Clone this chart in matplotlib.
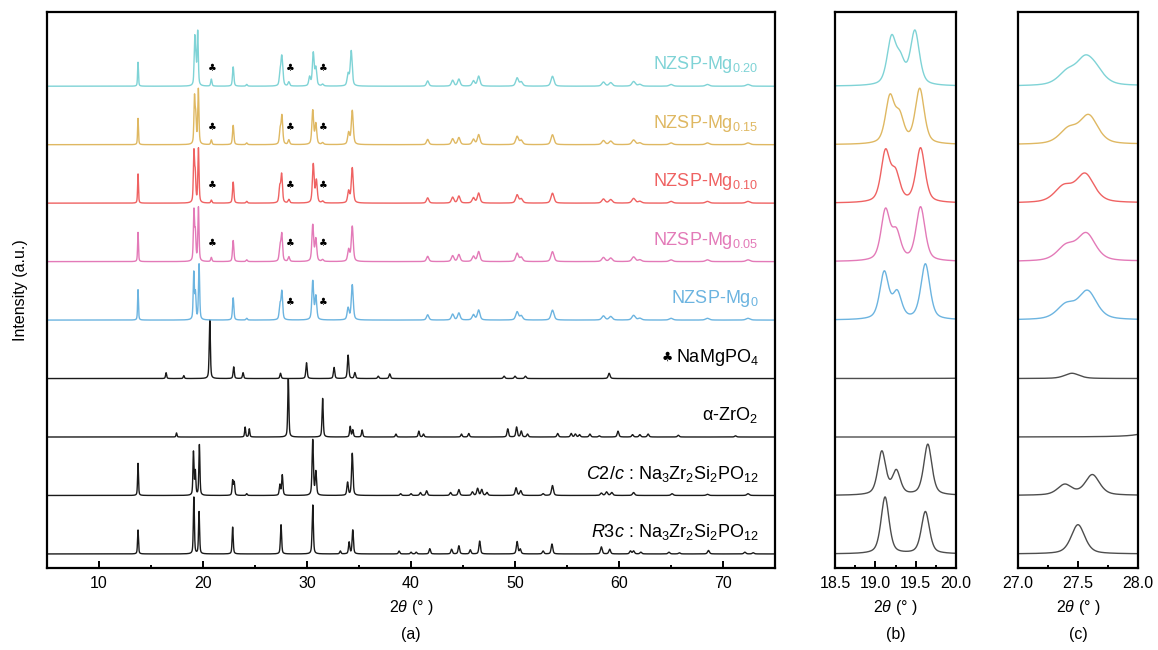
import numpy as np
import matplotlib.pyplot as plt
from matplotlib.ticker import MultipleLocator

plt.rcParams['font.family'] = ['Liberation Sans', 'DejaVu Sans']
plt.rcParams['mathtext.fontset'] = 'custom'
plt.rcParams['mathtext.rm'] = 'Liberation Sans'
plt.rcParams['mathtext.it'] = 'Liberation Sans:italic'
plt.rcParams['mathtext.bf'] = 'Liberation Sans:bold'

# peak lists: 2theta (deg) and height (max ~ 1)
r3c_pos = [13.75, 19.12, 19.62, 22.85, 27.5, 30.55, 33.2, 34.05, 34.4, 38.85, 40.0, 40.5,
           41.8, 43.9, 44.6, 45.7, 46.6, 50.2, 50.5, 52.7, 53.55, 58.3, 59.1, 61.1, 61.4,
           62.1, 64.8, 65.8, 68.6, 72.1, 72.9]
r3c_int = [0.41, 0.97, 0.72, 0.46, 0.5, 0.84, 0.05, 0.2, 0.41, 0.05, 0.03, 0.03,
           0.09, 0.08, 0.14, 0.07, 0.22, 0.21, 0.08, 0.05, 0.17, 0.12, 0.08, 0.05, 0.05,
           0.03, 0.03, 0.02, 0.06, 0.03, 0.02]

c2c_pos = [13.75, 19.08, 19.26, 19.65, 22.85, 23.0, 24.2, 27.39, 27.62, 30.55, 30.85, 33.9,
           34.35, 39.0, 40.0, 40.9, 41.5, 43.8, 44.6, 45.9, 46.4, 46.8, 47.3, 50.1, 50.55,
           52.7, 53.6, 58.3, 58.8, 59.3, 61.4, 65.1, 68.5, 72.4]
c2c_int = [0.55, 0.74, 0.4, 0.87, 0.25, 0.22, 0.03, 0.18, 0.35, 0.95, 0.4, 0.22,
           0.72, 0.03, 0.03, 0.05, 0.08, 0.05, 0.1, 0.06, 0.12, 0.1, 0.05, 0.13, 0.08,
           0.03, 0.17, 0.04, 0.06, 0.05, 0.05, 0.03, 0.02, 0.03]

zro2_pos = [17.45, 24.05, 24.45, 28.2, 31.5, 34.15, 34.4, 35.3, 38.55, 40.75, 41.2, 44.85,
            45.55, 49.3, 50.15, 50.6, 51.2, 54.1, 55.4, 55.8, 56.2, 57.2, 58.1, 59.9, 61.3,
            62.0, 62.8, 65.7, 71.2]
zro2_int = [0.07, 0.17, 0.14, 1.0, 0.66, 0.18, 0.12, 0.12, 0.05, 0.1, 0.05, 0.05,
            0.06, 0.14, 0.17, 0.1, 0.05, 0.06, 0.06, 0.05, 0.04, 0.05, 0.02, 0.1, 0.04,
            0.04, 0.05, 0.03, 0.02]

nmp_pos = [16.45, 18.15, 20.65, 22.95, 23.85, 27.45, 29.95, 32.6, 33.95, 34.6, 36.85, 37.95,
           48.95, 50.0, 51.0, 59.05]
nmp_int = [0.1, 0.05, 1.0, 0.2, 0.1, 0.09, 0.27, 0.19, 0.4, 0.1, 0.04, 0.08,
           0.04, 0.04, 0.04, 0.09]

# NZSP-Mgx samples, low-angle part
mg0_pos = [13.75, 19.11, 19.27, 19.62, 22.9, 24.2, 27.4, 27.58, 30.55, 30.85, 33.95, 34.35]
mg0_int = [0.52, 0.8, 0.44, 0.95, 0.38, 0.03, 0.24, 0.48, 0.66, 0.4, 0.2, 0.6]
mg05_pos = [13.75, 19.125, 19.26, 19.56, 20.8, 22.9, 24.2, 27.4, 27.57, 28.25, 30.55, 30.85,
            31.5, 34.0, 34.35]
mg05_int = [0.5, 0.85, 0.46, 0.92, 0.07, 0.36, 0.03, 0.24, 0.46, 0.08, 0.62, 0.38,
            0.03, 0.2, 0.6]
mg10_pos = [13.75, 19.125, 19.25, 19.56, 20.8, 22.9, 24.2, 27.38, 27.56, 28.25, 30.6, 30.9,
            31.5, 34.0, 34.35]
mg10_int = [0.5, 0.85, 0.46, 0.93, 0.05, 0.36, 0.03, 0.26, 0.48, 0.06, 0.66, 0.38,
            0.03, 0.2, 0.6]
mg15_pos = [13.75, 19.18, 19.3, 19.55, 20.8, 22.9, 24.2, 27.42, 27.59, 28.25, 30.55, 30.85,
            31.5, 34.0, 34.35]
mg15_int = [0.45, 0.78, 0.44, 0.94, 0.08, 0.33, 0.03, 0.24, 0.48, 0.08, 0.58, 0.35,
            0.03, 0.2, 0.58]
mg20_pos = [13.75, 19.2, 19.31, 19.49, 20.8, 22.9, 24.2, 27.41, 27.56, 27.65, 28.25, 30.25,
            30.6, 30.85, 31.5, 33.95, 34.25]
mg20_int = [0.41, 0.78, 0.38, 0.92, 0.12, 0.33, 0.03, 0.21, 0.4, 0.18, 0.07, 0.15,
            0.56, 0.3, 0.03, 0.2, 0.6]
# high-angle part, same for all doped samples
mg_hi_pos = [41.6, 44.0, 44.6, 46.0, 46.5, 50.2, 50.6, 53.6, 58.5, 59.2, 61.4, 62.0,
             65.0, 68.5, 72.4]
mg_hi_int = [0.09, 0.1, 0.12, 0.09, 0.17, 0.14, 0.07, 0.17, 0.07, 0.06, 0.08, 0.03,
             0.03, 0.03, 0.03]

club_pos = [20.9, 28.4, 31.6]

labels = [r'$R$3$c$ : Na$_3$Zr$_2$Si$_2$PO$_{12}$',
          r'$C$2/$c$ : Na$_3$Zr$_2$Si$_2$PO$_{12}$',
          r'α-ZrO$_2$',
          r'NaMgPO$_4$',
          r'NZSP-Mg$_0$', r'NZSP-Mg$_{0.05}$', r'NZSP-Mg$_{0.10}$',
          r'NZSP-Mg$_{0.15}$', r'NZSP-Mg$_{0.20}$']
colors = ['#1a1a1a', '#1a1a1a', '#1a1a1a', '#1a1a1a',
          '#6cb4e0', '#e37ab8', '#ef6262', '#dfb862', '#7fd3d6']
zoom_colors = ['#4d4d4d'] * 4 + colors[4:]

phases = [(r3c_pos, r3c_int, 0.12, 0.002),
          (c2c_pos, c2c_int, 0.12, 0.003),
          (zro2_pos, zro2_int, 0.11, 0.002),
          (nmp_pos, nmp_int, 0.13, 0.002),
          (mg0_pos + mg_hi_pos, mg0_int + mg_hi_int, 0.135, 0.006),
          (mg05_pos + mg_hi_pos, mg05_int + mg_hi_int, 0.135, 0.006),
          (mg10_pos + mg_hi_pos, mg10_int + mg_hi_int, 0.135, 0.006),
          (mg15_pos + mg_hi_pos, mg15_int + mg_hi_int, 0.135, 0.006),
          (mg20_pos + mg_hi_pos, mg20_int + mg_hi_int, 0.135, 0.006)]


def pattern(x, pos, hgt, fwhm, slope):
    y = np.zeros_like(x)
    for p, h in zip(pos, hgt):
        w = max(fwhm + slope * (p - 20), 0.08)
        d = (x - p) / w
        y += h * (0.5 / (1 + 4 * d ** 2) + 0.5 * np.exp(-4 * np.log(2) * d ** 2))
    return y


fig = plt.figure(figsize=(11.58, 6.5), dpi=100)
ax_a = fig.add_axes([0.0406, 0.1262, 0.6287, 0.8554])
ax_b = fig.add_axes([0.7211, 0.1262, 0.1045, 0.8554])
ax_c = fig.add_axes([0.8791, 0.1262, 0.1036, 0.8554])

ranges = [(ax_a, 5, 75), (ax_b, 18.5, 20.0), (ax_c, 27.0, 28.0)]
for ax, lo, hi in ranges:
    x = np.linspace(lo, hi, 6000)
    for i, (pos, hgt, fw, sl) in enumerate(phases):
        c = colors[i] if ax is ax_a else zoom_colors[i]
        ax.plot(x, pattern(x, pos, hgt, fw, sl) + i, color=c, lw=1.0)
    ax.set_xlim(lo, hi)
    ax.set_ylim(-0.24, 9.27)
    ax.set_yticks([])
    for s in ax.spines.values():
        s.set_linewidth(1.6)
    ax.tick_params(axis='x', which='both', direction='in', width=1.4, labelsize=11.5, pad=6)
    ax.tick_params(axis='x', which='major', length=5)
    ax.tick_params(axis='x', which='minor', length=2.5)
    ax.set_xlabel('2$θ$ (° )', fontsize=11.5, labelpad=5)

ax_a.xaxis.set_major_locator(MultipleLocator(10))
ax_a.xaxis.set_minor_locator(MultipleLocator(5))
ax_b.set_xticks([18.5, 19.0, 19.5, 20.0])
ax_b.set_xticklabels(['18.5', '19.0', '19.5', '20.0'])
ax_b.xaxis.set_minor_locator(MultipleLocator(0.25))
ax_c.set_xticks([27.0, 27.5, 28.0])
ax_c.set_xticklabels(['27.0', '27.5', '28.0'])
ax_c.xaxis.set_minor_locator(MultipleLocator(0.25))

ax_a.set_ylabel('Intensity (a.u.)', fontsize=11.5, labelpad=14)

for ax, tag in [(ax_a, '(a)'), (ax_b, '(b)'), (ax_c, '(c)')]:
    ax.text(0.5, -0.12, tag, transform=ax.transAxes, ha='center', va='center', fontsize=11.5)

for i, lab in enumerate(labels):
    ax_a.text(73.4, i + 0.29, lab, ha='right', va='baseline', fontsize=13,
              color=colors[i] if i >= 4 else 'black')
ax_a.text(64.6, 3 + 0.36, '♣', ha='center', va='center', fontsize=9, family='DejaVu Sans')

for i in range(4, 9):
    for p in club_pos:
        if i == 4 and p < 25:
            continue
        ax_a.text(p, i + 0.31, '♣', ha='center', va='center', fontsize=7,
                  family='DejaVu Sans', color='black')

fig.savefig('out.png', dpi=100)
